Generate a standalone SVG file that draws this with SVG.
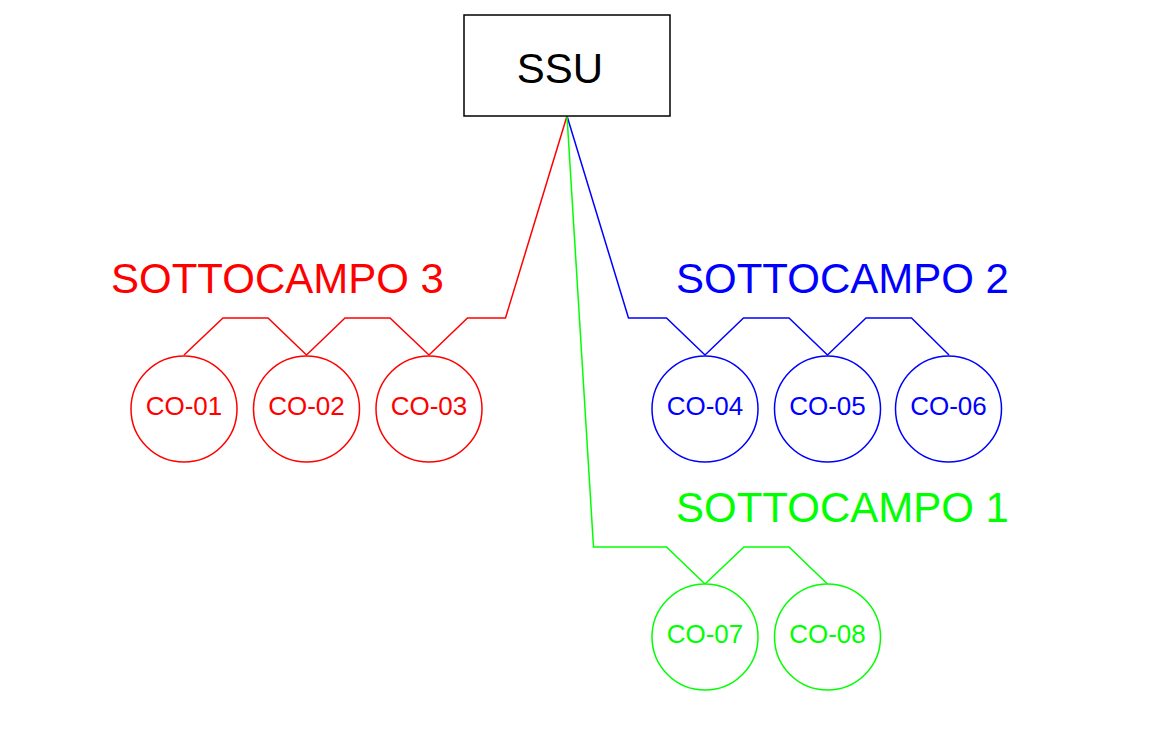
<svg xmlns="http://www.w3.org/2000/svg" width="1170" height="734" viewBox="0 0 1170 734">
<style>
text{font-family:"Liberation Sans",Arial,sans-serif}
.co{font-size:26px;text-anchor:middle}
.lbl{font-size:42px}
.wire{fill:none;stroke-width:1.5;stroke-linejoin:miter}
.node{fill:#fff;stroke-width:1.5}
.r{stroke:#ff0000}.b{stroke:#0000ff}.g{stroke:#00ff00}
.tr{fill:#ff0000}.tb{fill:#0000ff}.tg{fill:#00ff00}
</style>
<rect width="1170" height="734" fill="#fff"/>
<g id="connectors">
<polyline class="wire r" points="567,116 505.5,318 467.5,318 429,355 390,318 345,318 306.5,355 268,318 223,318 184,355"/>
<polyline class="wire b" points="567,116 628.5,318 666.5,318 705,355 743.5,318 789,318 827.5,355 866,318 911.5,318 949,355"/>
<polyline class="wire g" points="567,116 593.5,547 666.5,547 705,584 744,547 789,547 827.5,584"/>
</g>
<g id="ssu">
<rect x="464" y="15" width="206" height="101" fill="#fff" stroke="#000" stroke-width="1.5"/>
<text x="560" y="83" font-size="42" text-anchor="middle" fill="#000">SSU</text>
</g>
<g id="label-sottocampo3"><text class="lbl tr" x="111" y="293">SOTTOCAMPO 3</text></g>
<g id="label-sottocampo2"><text class="lbl tb" x="676" y="293">SOTTOCAMPO 2</text></g>
<g id="label-sottocampo1"><text class="lbl tg" x="676" y="522">SOTTOCAMPO 1</text></g>
<g id="co-01"><circle class="node r" cx="184" cy="409" r="53"/><text class="co tr" x="184" y="415">CO-01</text></g>
<g id="co-02"><circle class="node r" cx="306.5" cy="409" r="53"/><text class="co tr" x="306.5" y="415">CO-02</text></g>
<g id="co-03"><circle class="node r" cx="429" cy="409" r="53"/><text class="co tr" x="429" y="415">CO-03</text></g>
<g id="co-04"><circle class="node b" cx="705" cy="409" r="53"/><text class="co tb" x="705" y="415">CO-04</text></g>
<g id="co-05"><circle class="node b" cx="827.5" cy="409" r="53"/><text class="co tb" x="827.5" y="415">CO-05</text></g>
<g id="co-06"><circle class="node b" cx="948.5" cy="409" r="53"/><text class="co tb" x="948.5" y="415">CO-06</text></g>
<g id="co-07"><circle class="node g" cx="705" cy="637" r="53"/><text class="co tg" x="705" y="643">CO-07</text></g>
<g id="co-08"><circle class="node g" cx="827.5" cy="637" r="53"/><text class="co tg" x="827.5" y="643">CO-08</text></g>
</svg>
